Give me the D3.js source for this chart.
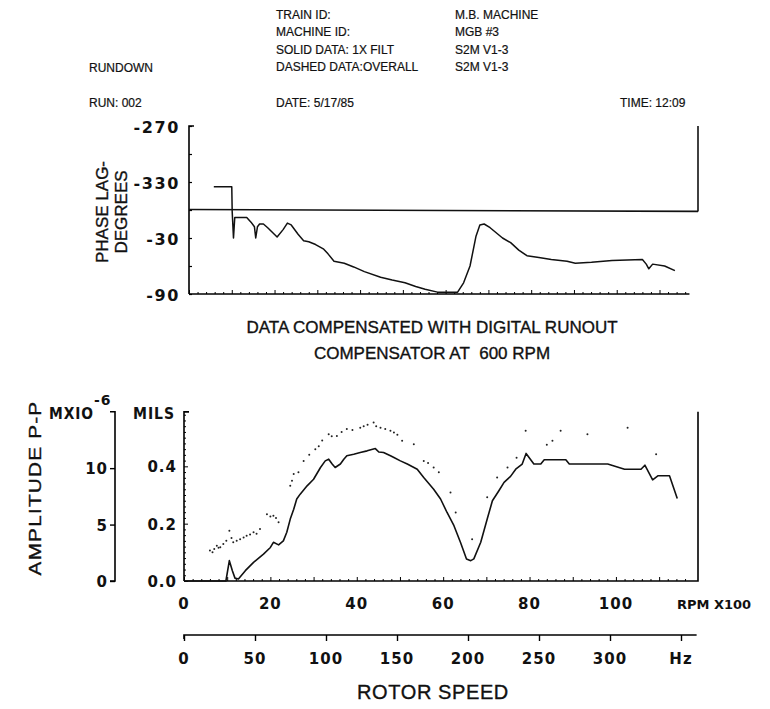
<!DOCTYPE html>
<html>
<head>
<meta charset="utf-8">
<script src="https://cdn.jsdelivr.net/npm/d3@7"></script>
<style>
  body { margin: 0; background: #fff; }
  text { font-family: "Liberation Sans", Arial, sans-serif; fill: #111; }
  .num { font-family: "DejaVu Sans", sans-serif; font-weight: bold; font-size: 15px; letter-spacing: 1px; }
  .hdr { font-size: 12px; stroke: #111; stroke-width: 0.2; }
  .big { font-size: 17px; stroke: #111; stroke-width: 0.35; }
</style>
</head>
<body>
<svg id="chart" width="770" height="709"></svg>
<script>
// ---- header text ----
const headerLeft = ["TRAIN ID:", "MACHINE ID:", "SOLID DATA: 1X FILT", "DASHED DATA:OVERALL"];
const headerRight = ["M.B. MACHINE", "MGB #3", "S2M V1-3", "S2M V1-3"];

// ---- phase (top plot), rpm x100 vs phase lag in deg (360 = 0 wrap line) ----
const phaseRpm = [5.8, 10.0, 10.1, 10.4, 10.7, 13.5, 14.5, 15.3, 15.6, 16.0, 16.5, 17.4, 18.4, 20.6, 22.0, 23.0, 23.9,
  25.5, 26.8, 28.0, 29.6, 31.5, 32.5, 33.9, 36.3, 38.5, 41.0, 44.8, 47.5, 50.5, 53.0, 55.2, 58.1, 62.8, 64.2, 65.7, 67.1, 68.0, 69.0, 70.4,
  73.3, 75.2, 77.1, 79.0, 81.8, 84.7, 88.4, 90.3, 94.1, 98.9, 106.0, 106.9, 107.5, 108.4, 111.2, 113.6];
const phaseDeg = [335, 335, 362, 390, 368, 368, 373, 378, 390, 378, 375, 375, 379, 389, 381, 374, 376,
  386, 393, 394, 397, 402, 407, 415, 417, 421, 426, 432, 435, 438, 442, 445, 448, 448, 438, 420, 388, 376, 375, 379,
  390, 395, 403, 409, 411, 413, 415, 417, 416, 414, 413, 418, 423, 418, 420, 425];
const wrapRpm = [0, 119];
const wrapDeg = [359.5, 361.5];
const phaseTicks = [270, 330, 390, 450];
const phaseTickLabels = ["-270", "-330", "-30", "-90"];

// ---- amplitude (bottom plot), solid = 1X filtered, mils p-p ----
const ampRpm = [0, 9.7, 10.5, 11.2, 11.8, 12.6, 14.2, 16.1, 18.4, 20.0, 20.7, 21.9, 23.0, 23.8, 24.6, 25.4, 26.1,
  26.9, 28.5, 30.0, 31.6, 32.7, 33.5, 34.3, 35.0, 36.2, 37.0, 37.7, 39.3, 40.8, 42.4, 44.3, 45.1, 46.2, 47.8,
  48.6, 50.1, 51.7, 54.0, 55.5, 57.8, 59.4, 60.9, 62.5, 64.0, 65.4, 66.4, 67.1, 68.7, 70.2, 71.4, 72.9, 74.1,
  75.6, 76.8, 78.3, 79.2, 81.0, 82.6, 83.4, 88.4, 89.2, 98.1, 102.0, 105.8, 106.7, 108.5, 109.7, 112.4, 114.2];
const ampMils = [0, 0, 0.071, 0.036, 0.01, 0.007, 0.036, 0.065, 0.094, 0.117, 0.135, 0.126, 0.14, 0.17, 0.216, 0.25, 0.286,
  0.303, 0.332, 0.355, 0.396, 0.419, 0.425, 0.408, 0.396, 0.408, 0.425, 0.437, 0.442, 0.448, 0.454, 0.462, 0.45, 0.448, 0.437,
  0.431, 0.419, 0.408, 0.39, 0.361, 0.32, 0.286, 0.239, 0.193, 0.135, 0.077, 0.071, 0.077, 0.135, 0.216, 0.28, 0.315, 0.344,
  0.365, 0.39, 0.408, 0.445, 0.408, 0.408, 0.423, 0.423, 0.408, 0.408, 0.39, 0.39, 0.404, 0.353, 0.367, 0.367, 0.288];

// dashed = overall, plotted as scattered dots
const overallRpm = [6.0, 6.6, 7.0, 7.6, 8.0, 8.4, 9.1, 9.8, 10.5, 11.0, 11.4, 12.2, 13.0, 13.8, 14.5, 15.3, 16.1, 16.8, 17.6,
  19.2, 20.0, 20.7, 21.3, 21.9, 24.6, 25.0, 25.4, 26.5, 27.7, 29.0, 30.4, 31.2, 32.0, 33.5, 34.2, 35.4, 36.5, 37.7, 39.0,
  40.8, 41.6, 42.5, 43.9, 44.5, 45.5, 46.6, 47.8, 48.6, 49.4, 50.5, 53.2, 55.5, 56.5, 57.8, 59.0, 61.7, 62.9, 66.7,
  70.2, 72.5, 74.9, 77.0, 79.1, 84.0, 85.3, 87.2, 93.4, 102.7, 109.3];
const overallMils = [0.106, 0.1, 0.112, 0.123, 0.116, 0.118, 0.129, 0.14, 0.175, 0.15, 0.135, 0.14, 0.146, 0.152, 0.158, 0.162, 0.17, 0.165, 0.181,
  0.233, 0.225, 0.228, 0.22, 0.205, 0.332, 0.35, 0.373, 0.379, 0.419, 0.44, 0.46, 0.47, 0.49, 0.512, 0.505, 0.506, 0.52, 0.53, 0.527,
  0.535, 0.54, 0.545, 0.553, 0.54, 0.535, 0.53, 0.524, 0.518, 0.51, 0.489, 0.477, 0.419, 0.412, 0.396, 0.379, 0.309, 0.239, 0.146,
  0.292, 0.361, 0.396, 0.43, 0.524, 0.475, 0.489, 0.524, 0.512, 0.535, 0.442];

const rpmTicks = [0, 20, 40, 60, 80, 100];
const milTicks = [0, 0.2, 0.4];
const micronTicks = [0, 5, 10];
const hzTicks = [0, 50, 100, 150, 200, 250, 300];

const svg = d3.select("#chart");

// header
const hdr = svg.append("g");
headerLeft.forEach((t, i) => hdr.append("text").attr("class", "hdr").attr("x", 276).attr("y", 19 + i * 17.3).text(t));
headerRight.forEach((t, i) => hdr.append("text").attr("class", "hdr").attr("x", 455).attr("y", 19 + i * 17.3).text(t));
hdr.append("text").attr("class", "hdr").attr("x", 89).attr("y", 72).text("RUNDOWN");
hdr.append("text").attr("class", "hdr").attr("x", 89).attr("y", 107).text("RUN: 002");
hdr.append("text").attr("class", "hdr").attr("x", 276).attr("y", 107).text("DATE: 5/17/85");
hdr.append("text").attr("class", "hdr").attr("x", 620).attr("y", 107).text("TIME: 12:09");

// ---------- top plot ----------
const xTop = d3.scaleLinear().domain([0, 119]).range([189, 698]);
const yPh = d3.scaleLinear().domain([270, 450]).range([126, 294]);

const line = (xs, ys) => d3.line().x(d => xs(d[0])).y(d => ys(d[1]));

// left axis with inward ticks
const phAxis = svg.append("g").attr("transform", `translate(${xTop(0)},0)`)
  .call(d3.axisRight(yPh).tickValues(d3.range(270, 451, 30)).tickSize(3).tickFormat(""));
phAxis.select(".domain").attr("d", `M5,${yPh(270)}H0V${yPh(450)}`).attr("stroke-width", 1.6);
phAxis.selectAll(".tick line").attr("stroke-width", 1.2);

phaseTicks.forEach((v, i) => svg.append("text").attr("class", "num")
  .style("font-size", "16px").style("letter-spacing", "1.6px")
  .attr("x", 180).attr("y", yPh(v) + 7).attr("text-anchor", "end").text(phaseTickLabels[i]));

// bottom axis of top plot
const topXAxis = svg.append("g").attr("transform", `translate(0,${yPh(450)})`)
  .call(d3.axisTop(xTop).tickValues(d3.range(0, 118, 2)).tickSize(2).tickFormat(""));
topXAxis.select(".domain").attr("d", `M${xTop(0)},0H${xTop(117)}`).attr("stroke-width", 1.3);
topXAxis.selectAll(".tick line").attr("y2", d => d % 10 === 0 ? -4 : -2);

// wrap line (0 / -360) and right border
svg.append("path").datum(wrapRpm.map((r, i) => [r, wrapDeg[i]]))
  .attr("d", line(xTop, yPh)).attr("fill", "none").attr("stroke", "#111").attr("stroke-width", 1.6);
svg.append("path").datum([[119, 270], [119, 361.5]])
  .attr("d", line(xTop, yPh)).attr("fill", "none").attr("stroke", "#111").attr("stroke-width", 1.6);

svg.append("path").datum(phaseRpm.map((r, i) => [r, phaseDeg[i]]))
  .attr("d", line(xTop, yPh)).attr("fill", "none").attr("stroke", "#111")
  .attr("stroke-width", 1.5).attr("stroke-linejoin", "round");

svg.append("text").attr("class", "big").attr("transform", "translate(108,212) rotate(-90)")
  .attr("text-anchor", "middle").text("PHASE LAG-");
svg.append("text").attr("class", "big").attr("transform", "translate(127,212) rotate(-90)")
  .attr("text-anchor", "middle").text("DEGREES");

// middle title
svg.append("text").attr("class", "big").attr("x", 432).attr("y", 333).attr("text-anchor", "middle")
  .text("DATA COMPENSATED WITH DIGITAL RUNOUT");
svg.append("text").attr("class", "big").attr("x", 432).attr("y", 359).attr("text-anchor", "middle")
  .text("COMPENSATOR AT\u00a0\u00a0600 RPM");

// ---------- bottom plot ----------
const xBot = d3.scaleLinear().domain([0, 119]).range([184, 698]);
const yMil = d3.scaleLinear().domain([0, 0.6]).range([581, 409]);
const yMic = d3.scaleLinear().domain([0, 0.6 * 25.4]).range([581, 409]);

const milAxis = svg.append("g").attr("transform", `translate(${xBot(0)},0)`)
  .call(d3.axisRight(yMil).tickValues(d3.range(0, 0.595, 0.02)).tickSize(2).tickFormat(""));
milAxis.select(".domain").attr("d", `M5,${yMil(0.59)}H0V${yMil(0)}`).attr("stroke-width", 1.6);
milAxis.selectAll(".tick line").attr("x2", d => Math.abs(d / 0.2 - Math.round(d / 0.2)) < 1e-6 ? 4 : 2);

const micAxis = svg.append("g").attr("transform", "translate(115,0)")
  .call(d3.axisLeft(yMic).tickValues(micronTicks).tickSize(5).tickFormat(""));
micAxis.select(".domain").attr("d", `M-5,${yMic(15)}H0V${yMic(0)}H-5`).attr("stroke-width", 1.6);
micAxis.selectAll(".tick line").attr("stroke-width", 1.4);

milTicks.forEach(v => svg.append("text").attr("class", "num").attr("x", 177).attr("y", yMil(v) + 6)
  .attr("text-anchor", "end").text(v.toFixed(1)));
micronTicks.forEach(v => svg.append("text").attr("class", "num").attr("x", 108).attr("y", yMic(v) + 6)
  .attr("text-anchor", "end").text(v));
svg.append("text").attr("class", "num").attr("x", 133).attr("y", 419)
  .attr("textLength", 42).attr("lengthAdjust", "spacingAndGlyphs").text("MILS");
svg.append("text").attr("class", "num").attr("x", 49).attr("y", 419)
  .attr("textLength", 45).attr("lengthAdjust", "spacingAndGlyphs").text("MXIO");
svg.append("text").attr("class", "num").style("font-size", "14px").attr("x", 94).attr("y", 405).text("-6");

svg.append("text").attr("class", "big").attr("transform", "translate(41,488) rotate(-90) scale(1.22,1)")
  .attr("text-anchor", "middle").style("letter-spacing", "1px").text("AMPLITUDE P-P");

// bottom rpm axis
const rpmAxis = svg.append("g").attr("transform", `translate(0,${yMil(0)})`)
  .call(d3.axisTop(xBot).tickValues(d3.range(0, 118, 2)).tickSize(2).tickFormat(""));
rpmAxis.select(".domain").attr("d", `M${xBot(0)},0H${xBot(119)}V${yMil(0.59) - yMil(0)}`).attr("stroke-width", 1.6);
rpmAxis.selectAll(".tick line").attr("y2", d => d % 10 === 0 ? -4 : -2);

rpmTicks.forEach(v => svg.append("text").attr("class", "num").attr("x", xBot(v)).attr("y", 609)
  .attr("text-anchor", "middle").text(v));
svg.append("text").attr("class", "num").style("font-size", "13px").style("letter-spacing", "0px")
  .attr("x", 677).attr("y", 609).text("RPM X100");

// amplitude curves
svg.append("path").datum(ampRpm.map((r, i) => [r, ampMils[i]]))
  .attr("d", line(xBot, yMil)).attr("fill", "none").attr("stroke", "#111")
  .attr("stroke-width", 1.6).attr("stroke-linejoin", "round");
svg.append("g").selectAll("circle")
  .data(overallRpm.map((r, i) => [r, overallMils[i]]))
  .join("circle").attr("cx", d => xBot(d[0])).attr("cy", d => yMil(d[1])).attr("r", 1).attr("fill", "#222");

// Hz axis
const xHz = d3.scaleLinear().domain([0, 100]).range([184, 326]);
const hzAxis = svg.append("g").attr("transform", "translate(0,635)")
  .call(d3.axisBottom(xHz).tickValues(hzTicks.concat([350])).tickSize(6).tickFormat(""));
hzAxis.select(".domain").attr("d", `M${xHz(0)},4V0H${xHz(361)}`).attr("stroke-width", 1.6);
hzAxis.selectAll(".tick line").attr("stroke-width", 1.4);
hzTicks.forEach(v => svg.append("text").attr("class", "num").attr("x", xHz(v)).attr("y", 664)
  .attr("text-anchor", "middle").text(v));
svg.append("text").attr("class", "num").attr("x", xHz(350)).attr("y", 664)
  .attr("text-anchor", "middle").text("Hz");

svg.append("text").attr("class", "big").style("font-size", "20px").style("letter-spacing", "0.6px")
  .attr("x", 433).attr("y", 699).attr("text-anchor", "middle").text("ROTOR SPEED");
</script>
</body>
</html>
